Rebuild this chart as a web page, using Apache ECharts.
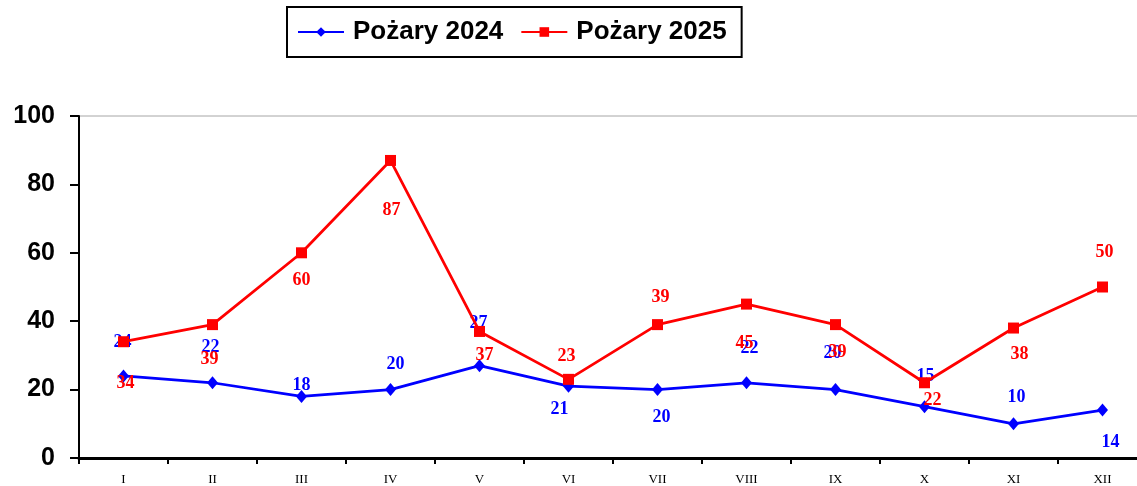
<!DOCTYPE html>
<html>
<head>
<meta charset="utf-8">
<script src="https://cdn.jsdelivr.net/npm/echarts@6/dist/echarts.min.js"></script>
<style>
html,body{margin:0;padding:0;background:#fff;overflow:hidden;width:1137px;height:486px;}
#chart{width:1148px;height:486px;}
</style>
</head>
<body>
<div id="chart"></div>
<script>
const categories = ['I','II','III','IV','V','VI','VII','VIII','IX','X','XI','XII'];
const fires2024 = [24, 22, 18, 20, 27, 21, 20, 22, 20, 15, 10, 14];
const fires2025 = [34, 39, 60, 87, 37, 23, 39, 45, 39, 22, 38, 50];
const seriesNames = ['Pożary 2024', 'Pożary 2025'];

// label placement (pixel offsets from the point), styling only
const labelOffsets2024 = [[-1,-34],[-2,-35],[0,-11],[5,-25],[-1,-42],[-9,23],[4,28],[3,-34],[-3,-36],[1,-30],[3,-26],[8,32]];
const labelOffsets2025 = [[2,42],[-3,35],[0,28],[1,50],[5,24],[-2,-23],[3,-27],[-2,39],[2,28],[8,18],[6,26],[2,-35]];

function build(values, offsets) {
  return values.map((v, i) => ({ value: v, label: { offset: offsets[i] } }));
}

const labelBase = {
  show: true,
  position: 'inside',
  fontFamily: 'Liberation Serif',
  fontWeight: 'bold',
  fontSize: 18
};

const chart = echarts.init(document.getElementById('chart'));
chart.setOption({
  animation: false,
  backgroundColor: '#fff',
  legend: {
    left: 287,
    top: 7,
    padding: [12, 15, 12, 10],
    borderColor: '#000',
    borderWidth: 2,
    itemWidth: 46,
    itemHeight: 12,
    itemGap: 17,
    textStyle: {
      fontFamily: 'Liberation Sans',
      fontWeight: 'bold',
      fontSize: 26,
      color: '#000',
      padding: [0, 0, 0, 4]
    },
    data: seriesNames
  },
  grid: {
    left: 79,
    top: 116,
    width: 1068,
    bottom: 28,
    show: true,
    borderColor: '#a6a6a6',
    borderWidth: 1,
    containLabel: false
  },
  xAxis: {
    type: 'category',
    data: categories,
    boundaryGap: true,
    axisLine: { lineStyle: { color: '#000', width: 3 } },
    axisTick: { show: true, alignWithLabel: false, length: 6, inside: false, lineStyle: { color: '#000', width: 2 } },
    axisLabel: { fontFamily: 'Liberation Serif', fontSize: 13, color: '#000', margin: 15 },
    splitLine: { show: false }
  },
  yAxis: {
    type: 'value',
    min: 0,
    max: 100,
    interval: 20,
    axisLine: { show: true, lineStyle: { color: '#000', width: 2 } },
    axisTick: { show: true, length: 9, lineStyle: { color: '#000', width: 2 } },
    axisLabel: { fontFamily: 'Liberation Sans', fontWeight: 'bold', fontSize: 25, color: '#000', margin: 24 },
    splitLine: { show: false }
  },
  series: [
    {
      name: seriesNames[0],
      type: 'line',
      data: build(fires2024, labelOffsets2024),
      symbol: 'diamond',
      symbolSize: [11, 13],
      lineStyle: { color: '#0000ff', width: 2.75 },
      itemStyle: { color: '#0000ff' },
      label: Object.assign({ color: '#0000ff' }, labelBase),
      z: 2
    },
    {
      name: seriesNames[1],
      type: 'line',
      data: build(fires2025, labelOffsets2025),
      symbol: 'rect',
      symbolSize: 11,
      lineStyle: { color: '#ff0000', width: 2.75 },
      itemStyle: { color: '#ff0000' },
      label: Object.assign({ color: '#ff0000' }, labelBase),
      z: 3
    }
  ]
});
</script>
</body>
</html>
